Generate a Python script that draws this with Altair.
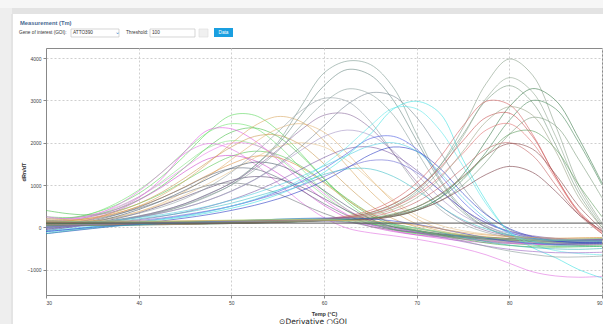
import altair as alt
import pandas as pd

# Melt-curve derivative readings (dRn/dT) sampled every 2.5 °C
TEMPS = [30, 32.5, 35, 37.5, 40, 42.5, 45, 47.5, 50, 52.5, 55, 57.5, 60,
         62.5, 65, 67.5, 70, 72.5, 75, 77.5, 80, 82.5, 85, 87.5, 90]

# Early-melting wells (peaks 47–58 °C)
EARLY_GREEN = {
    "GR1": [200, 220, 330, 520, 800, 1200, 1700, 2250, 2650, 2650, 2300, 1750, 1150, 600, 200, -50, -150, -220, -260, -300, -320, -340, -380, -360, -330],
    "GR2": [150, 200, 330, 560, 880, 1300, 1800, 2250, 2450, 2350, 1950, 1400, 850, 420, 120, -60, -150, -200, -250, -300, -350, -380, -420, -400, -380],
    "GR3": [400, 320, 300, 420, 650, 980, 1420, 1900, 2250, 2350, 2150, 1700, 1150, 650, 280, 50, -80, -180, -260, -330, -380, -420, -450, -430, -420],
    "GR4": [100, 150, 260, 450, 720, 1080, 1500, 1880, 2050, 1960, 1650, 1200, 750, 380, 120, -40, -130, -200, -260, -300, -330, -360, -390, -370, -360],
    "GR5": [250, 230, 280, 380, 560, 800, 1100, 1420, 1680, 1800, 1720, 1450, 1080, 680, 330, 80, -60, -150, -220, -280, -320, -350, -370, -360, -350],
}
EARLY_MAGENTA = {
    "MG1": [250, 200, 260, 420, 700, 1150, 1800, 2300, 2330, 2050, 1600, 1100, 650, 300, 60, -80, -180, -260, -320, -360, -380, -400, -420, -410, -400],
    "MG2": [150, 170, 280, 500, 850, 1300, 1750, 1980, 1850, 1500, 1050, 600, 230, -20, -130, -200, -280, -380, -500, -650, -850, -1050, -1150, -1180, -1160],
    "MG3": [50, 100, 200, 380, 640, 950, 1320, 1620, 1700, 1580, 1280, 900, 520, 220, 20, -100, -180, -230, -280, -320, -360, -390, -400, -380, -370],
    "MG4": [200, 210, 300, 470, 720, 1050, 1420, 1780, 1990, 1950, 1680, 1250, 800, 420, 150, -20, -130, -200, -260, -300, -330, -360, -380, -370, -350],
}
EARLY_TAN = {
    "OR1": [100, 130, 200, 320, 500, 760, 1100, 1520, 1980, 2400, 2620, 2500, 2050, 1450, 850, 380, 80, -80, -180, -250, -300, -320, -330, -320, -300],
    "OR2": [50, 80, 140, 230, 370, 570, 850, 1200, 1600, 2000, 2330, 2450, 2250, 1750, 1150, 600, 200, -30, -150, -220, -270, -300, -310, -300, -280],
    "OR3": [120, 150, 230, 360, 560, 830, 1170, 1550, 1900, 2150, 2180, 1950, 1500, 980, 520, 200, 10, -110, -190, -240, -280, -300, -320, -310, -300],
    "OR4": [80, 100, 150, 240, 370, 540, 760, 1030, 1330, 1640, 1900, 2000, 1900, 1580, 1120, 650, 280, 50, -80, -160, -210, -240, -260, -250, -240],
    "OR5": [150, 160, 220, 330, 490, 700, 960, 1240, 1500, 1680, 1650, 1420, 1050, 650, 320, 100, -30, -120, -180, -230, -260, -280, -290, -280, -270],
}
EARLY_DARK = {
    "DK1": [-50, 30, 120, 250, 420, 630, 880, 1150, 1400, 1540, 1480, 1230, 870, 500, 200, 10, -100, -170, -220, -260, -290, -310, -330, -320, -310],
    "DK2": [0, 60, 150, 290, 470, 700, 950, 1220, 1390, 1380, 1180, 880, 560, 280, 80, -50, -130, -190, -240, -280, -300, -320, -330, -320, -310],
    "DK3": [-80, 0, 90, 200, 340, 520, 720, 930, 1110, 1200, 1150, 960, 680, 390, 160, 10, -80, -150, -200, -240, -270, -290, -300, -290, -280],
    "DK4": [50, 100, 180, 300, 450, 630, 820, 990, 1050, 980, 800, 560, 330, 150, 20, -60, -120, -170, -210, -250, -280, -300, -310, -300, -290],
}

# Mid-melting wells (peaks 60–69 °C)
MID_GRAY = {
    "GY1": [0, 40, 90, 160, 250, 370, 530, 750, 1000, 1450, 2000, 2850, 3650, 3930, 3850, 3300, 2200, 1150, 450, 50, -180, -300, -360, -380, -370],
    "GY2": [30, 60, 110, 180, 270, 390, 560, 790, 1050, 1450, 1950, 2650, 3350, 3730, 3600, 3000, 2050, 1100, 400, 0, -230, -340, -400, -420, -410],
    "GY3": [-20, 20, 80, 150, 240, 360, 520, 730, 1000, 1350, 1800, 2400, 2950, 3270, 3150, 2650, 1800, 950, 350, 0, -190, -290, -350, -360, -350],
    "GY4": [20, 50, 100, 160, 240, 340, 470, 640, 860, 1130, 1480, 1900, 2400, 2900, 3180, 3100, 2600, 1800, 950, 320, -50, -250, -350, -380, -370],
    "GY5": [40, 80, 140, 220, 330, 480, 680, 950, 1300, 1750, 2250, 2750, 3050, 2980, 2500, 1750, 1000, 430, 80, -120, -230, -290, -320, -330, -320],
}
MID_PURPLE = {
    "PU1": [-30, 20, 80, 160, 260, 390, 560, 780, 1050, 1400, 1830, 2300, 2650, 2680, 2350, 1750, 1080, 520, 150, -80, -200, -270, -310, -320, -310],
    "PU2": [20, 50, 100, 160, 240, 340, 470, 640, 850, 1120, 1450, 1820, 2150, 2300, 2180, 1800, 1250, 700, 280, 20, -140, -230, -280, -290, -290],
    "PU3": [0, 30, 70, 120, 180, 260, 360, 490, 650, 850, 1090, 1370, 1650, 1860, 1900, 1720, 1350, 870, 430, 110, -90, -200, -260, -280, -280],
}
MID_BLUE = {
    "BL1": [-100, -50, 10, 70, 130, 200, 280, 380, 500, 650, 840, 1080, 1380, 1750, 2100, 2150, 1850, 1250, 600, 150, -120, -260, -330, -350, -340],
    "BL2": [-150, -90, -30, 30, 90, 150, 220, 300, 400, 520, 670, 860, 1100, 1400, 1720, 1900, 1800, 1400, 800, 300, -30, -220, -320, -360, -360],
    "BL3": [-50, 0, 50, 100, 160, 220, 300, 390, 500, 640, 800, 990, 1200, 1420, 1580, 1560, 1300, 880, 430, 100, -100, -220, -280, -300, -300],
}
MID_CYAN = {
    "CY1": [-80, -30, 20, 70, 120, 180, 250, 340, 450, 590, 770, 1000, 1300, 1700, 2200, 2800, 2980, 2700, 1600, 620, -120, -480, -720, -1000, -1200],
    "CY2": [-120, -60, 0, 60, 120, 190, 270, 370, 500, 660, 870, 1130, 1480, 1900, 2400, 2820, 2800, 2300, 1450, 550, -100, -400, -550, -620, -650],
    "CY3": [50, 80, 120, 170, 230, 300, 390, 500, 640, 800, 990, 1200, 1450, 1700, 1930, 2000, 1800, 1300, 700, 200, -150, -330, -420, -450, -450],
    "CY4": [0, 40, 90, 140, 200, 270, 350, 450, 570, 720, 880, 1060, 1250, 1380, 1380, 1200, 880, 500, 180, -40, -180, -260, -310, -320, -320],
}

# Late-melting wells (peaks 78–82 °C)
LATE = {
    "LT1": [80, 70, 60, 60, 60, 70, 80, 90, 100, 110, 130, 150, 180, 230, 320, 500, 850, 1450, 2350, 3400, 3980, 3600, 2400, 1000, 100],
    "LT2": [50, 50, 50, 50, 55, 60, 70, 80, 90, 100, 120, 140, 170, 220, 310, 480, 800, 1350, 2150, 3050, 3540, 3200, 2150, 900, 50],
    "LT3": [100, 90, 80, 80, 80, 85, 90, 100, 110, 120, 140, 160, 190, 250, 350, 550, 900, 1450, 2200, 3000, 3350, 2950, 1950, 800, 0],
    "LT4": [60, 60, 60, 60, 65, 70, 80, 90, 100, 110, 120, 140, 160, 190, 220, 260, 400, 700, 1250, 2050, 2850, 3280, 3000, 2100, 1050],
    "LT5": [40, 45, 50, 55, 60, 65, 70, 80, 90, 100, 110, 130, 150, 180, 210, 290, 430, 690, 1130, 1780, 2530, 3000, 2800, 2000, 1000],
    "LT6": [90, 80, 70, 70, 70, 75, 80, 90, 100, 110, 130, 160, 200, 270, 400, 650, 1050, 1650, 2400, 2980, 2900, 2200, 1200, 350, -150],
    "LT7": [70, 70, 70, 70, 70, 75, 80, 90, 100, 110, 125, 150, 180, 240, 350, 560, 900, 1400, 2050, 2600, 2700, 2150, 1200, 380, -100],
    "LT8": [110, 100, 90, 90, 90, 95, 100, 105, 110, 120, 130, 140, 160, 180, 200, 280, 400, 620, 1000, 1550, 2200, 2600, 2400, 1600, 700],
    "LT9": [120, 110, 100, 100, 100, 105, 110, 120, 130, 140, 150, 170, 200, 240, 300, 480, 760, 1200, 1750, 2300, 2450, 2000, 1150, 350, -120],
    "LT10": [130, 120, 110, 110, 110, 115, 120, 130, 140, 150, 160, 180, 200, 230, 250, 380, 600, 950, 1400, 1850, 2000, 1700, 1000, 300, -150],
    "LT11": [60, 60, 60, 60, 65, 70, 80, 90, 100, 110, 120, 140, 160, 180, 200, 300, 480, 780, 1200, 1700, 1980, 1850, 1250, 500, -50],
    "LT12": [150, 140, 130, 130, 130, 135, 140, 145, 150, 155, 160, 165, 170, 175, 180, 260, 400, 620, 920, 1250, 1440, 1300, 850, 300, -80],
    "LT13": [90, 90, 90, 90, 90, 95, 100, 110, 120, 130, 140, 150, 170, 190, 220, 320, 480, 760, 1180, 1700, 2200, 2280, 1850, 1000, 250],
    "LT14": [70, 65, 60, 60, 60, 65, 70, 80, 90, 100, 120, 140, 170, 210, 280, 430, 700, 1150, 1800, 2500, 2850, 2650, 1800, 700, 0],
}

# Wells without a clear melt peak
FLAT = {
    "FL1": [-100, -50, 0, 40, 70, 90, 110, 130, 150, 170, 190, 210, 220, 220, 200, 150, 70, -30, -140, -250, -330, -380, -400, -390, -380],
    "FL2": [100, 100, 100, 100, 110, 120, 130, 140, 150, 160, 170, 170, 160, 130, 80, 10, -80, -180, -280, -370, -430, -460, -470, -460, -450],
    "FL3": [-150, -80, -20, 30, 60, 90, 110, 130, 150, 170, 190, 200, 200, 180, 140, 70, -20, -120, -230, -340, -420, -480, -510, -520, -500],
    "FL4": [0, 40, 70, 90, 100, 110, 120, 130, 140, 150, 160, 160, 150, 120, 60, -20, -120, -230, -340, -440, -520, -570, -600, -600, -590],
    "FL5": [50, 60, 70, 80, 90, 100, 110, 120, 130, 140, 150, 165, 180, 160, 110, 30, -70, -190, -320, -450, -560, -640, -700, -700, -680],
    "FL6": [150, 140, 130, 130, 130, 140, 150, 160, 170, 180, 190, 190, 180, 160, 120, 60, -20, -100, -180, -240, -280, -300, -300, -280, -260],
    "FL7": [200, 180, 160, 150, 150, 150, 155, 160, 165, 170, 175, 175, 170, 160, 150, 110, 50, -30, -120, -180, -220, -240, -260, -250, -240],
}

THRESHOLD = [100]
X_TICKS = [30, 40, 50, 60, 70, 80, 90]
Y_TICKS = [-1000, 0, 1000, 2000, 3000, 4000]

SERIES_COLORS = {
    "GR1": "#5cd65c", "GR2": "#6ee26e", "GR3": "#4cc04c", "GR4": "#86e486", "GR5": "#58c858",
    "MG1": "#e158e1", "MG2": "#e070e0", "MG3": "#cc48cc", "MG4": "#ea80ea",
    "OR1": "#d8a862", "OR2": "#e2b474", "OR3": "#c99a54", "OR4": "#e6c28c", "OR5": "#dc9044",
    "DK1": "#4a5a6c", "DK2": "#5e6878", "DK3": "#5a4a72", "DK4": "#72787e",
    "GY1": "#7d9a92", "GY2": "#6c8a84", "GY3": "#8aa09c", "GY4": "#7a8a94", "GY5": "#94a0a4",
    "PU1": "#8a6a9c", "PU2": "#a494c4", "PU3": "#7a5aa4",
    "BL1": "#4a5ae2", "BL2": "#2c3cc4", "BL3": "#6c6cd4",
    "CY1": "#40e0e0", "CY2": "#62e8ea", "CY3": "#52d0e2", "CY4": "#42c0c8",
    "LT1": "#8aa08a", "LT2": "#92a892", "LT3": "#7c9a82", "LT4": "#3c7a4c", "LT5": "#4c8a5c",
    "LT6": "#d26262", "LT7": "#c85252", "LT8": "#7c9a7c", "LT9": "#e07272", "LT10": "#c26464",
    "LT11": "#8a4a4a", "LT12": "#7a3c44", "LT13": "#5c9a5c", "LT14": "#9aa284",
    "FL1": "#3a4ad2", "FL2": "#42b242", "FL3": "#30b2b2", "FL4": "#9a62c2", "FL5": "#8a9a9a",
    "FL6": "#92e292", "FL7": "#e0a252",
}

groups = [EARLY_GREEN, EARLY_MAGENTA, EARLY_TAN, EARLY_DARK, MID_GRAY, MID_PURPLE,
          MID_BLUE, MID_CYAN, LATE, FLAT]
rows = []
for grp in groups:
    for name, vals in grp.items():
        for t, v in zip(TEMPS, vals):
            rows.append({"series": name, "temp": t, "dRn": v})
curves = pd.DataFrame(rows)
names = list(SERIES_COLORS.keys())
colors = list(SERIES_COLORS.values())

FONT = "Liberation Sans"
W, H = 556, 247
one = pd.DataFrame({"k": [0]})

x_scale = alt.Scale(domain=[30, 90], nice=False, zero=False)
y_scale = alt.Scale(domain=[-1600, 4240], nice=False, zero=False)

x_axis = alt.Axis(values=X_TICKS, format="d", title="Temp (°C)", labelFontSize=5, labelColor="#444",
                  labelPadding=2, tickSize=3, tickColor="#888", domainColor="#888",
                  gridColor="#cfcfcf", gridDash=[2, 2], titleFontSize=5.5, titleFontWeight="bold",
                  titleColor="#333", titleX=W / 2, titleY=18, titleBaseline="middle",
                  labelFont=FONT, titleFont=FONT)
y_axis = alt.Axis(values=Y_TICKS, format="d", title="dRn/dT", labelFontSize=5, labelColor="#444",
                  labelPadding=2, tickSize=3, tickColor="#888", domainColor="#888",
                  gridColor="#cfcfcf", gridDash=[2, 2], titleFontSize=5.5, titleFontWeight="bold",
                  titleColor="#333", titleX=-23, titleY=H / 2, titleAngle=270,
                  titleAlign="center", titleBaseline="middle", labelFont=FONT, titleFont=FONT)


def box(x1, x2, y1, y2, fill, stroke=None):
    kw = {"fill": fill}
    if stroke:
        kw.update(stroke=stroke, strokeWidth=0.7)
    return alt.Chart(one).mark_rect(**kw).encode(
        x=alt.value(x1), x2=alt.value(x2), y=alt.value(y1), y2=alt.value(y2))


def label(txt, x, y, size=4.7, color="#333", weight="normal", align="left", font=FONT):
    return alt.Chart(one).mark_text(text=txt, fontSize=size, color=color, font=font,
                                    fontWeight=weight, align=align, baseline="middle").encode(
        x=alt.value(x), y=alt.value(y))


# page chrome around the panel (coordinates relative to the plot origin)
chrome = [
    box(-46, 560, -48, -40, "#f6f6f6"),
    box(-46, 560, -40, -34, "#e3e3e3"),
    box(-46, -34, -40, 280, "#eeeeee"),
    box(-35, -33, -34, 280, "#e4e4e4"),
    box(25, 73, -19, -11, "#ffffff", "#c4c4c4"),
    box(104, 149, -19, -11, "#ffffff", "#c4c4c4"),
    box(153, 162, -19, -11, "#f0f0f0", "#e0e0e0"),
    box(168, 187, -20, -11, "#1a9fe0"),
    label("Measurement (Tm)", -26, -25, size=5.8, color="#4a6a92", weight="bold"),
    label("Gene of interest (GOI):", -27, -15),
    label("ATTO390", 27, -15),
    label("⌄", 69, -16.5, size=6, color="#3a8ad0", font="DejaVu Sans"),
    label("Threshold:", 80, -15),
    label("100", 106, -15),
    label("Data", 177.5, -15.5, color="#ffffff", align="center"),
    label("⊙Derivative  ○GOI", 267, 273.5, size=7.5, color="#222222", align="center",
          font="DejaVu Sans"),
]

lines = alt.Chart(curves).mark_line(strokeWidth=0.8, opacity=0.75, interpolate="catmull-rom").encode(
    x=alt.X("temp:Q", scale=x_scale, axis=x_axis),
    y=alt.Y("dRn:Q", scale=y_scale, axis=y_axis),
    color=alt.Color("series:N", scale=alt.Scale(domain=names, range=colors), legend=None),
    detail="series:N",
)

threshold = alt.Chart(pd.DataFrame({"dRn": THRESHOLD})).mark_rule(color="#555555", strokeWidth=1).encode(
    y=alt.Y("dRn:Q", scale=y_scale, axis=y_axis)
)

chart = alt.layer(*chrome, lines, threshold).properties(
    width=W, height=H,
    padding={"left": 46, "top": 48, "right": 1, "bottom": 29},
    autosize=alt.AutoSizeParams(type="none"),
    background="#ffffff",
).configure_view(stroke="#8a8a8a", strokeWidth=1)

chart.save("out.html", embed_options={"renderer": "svg", "actions": False})
